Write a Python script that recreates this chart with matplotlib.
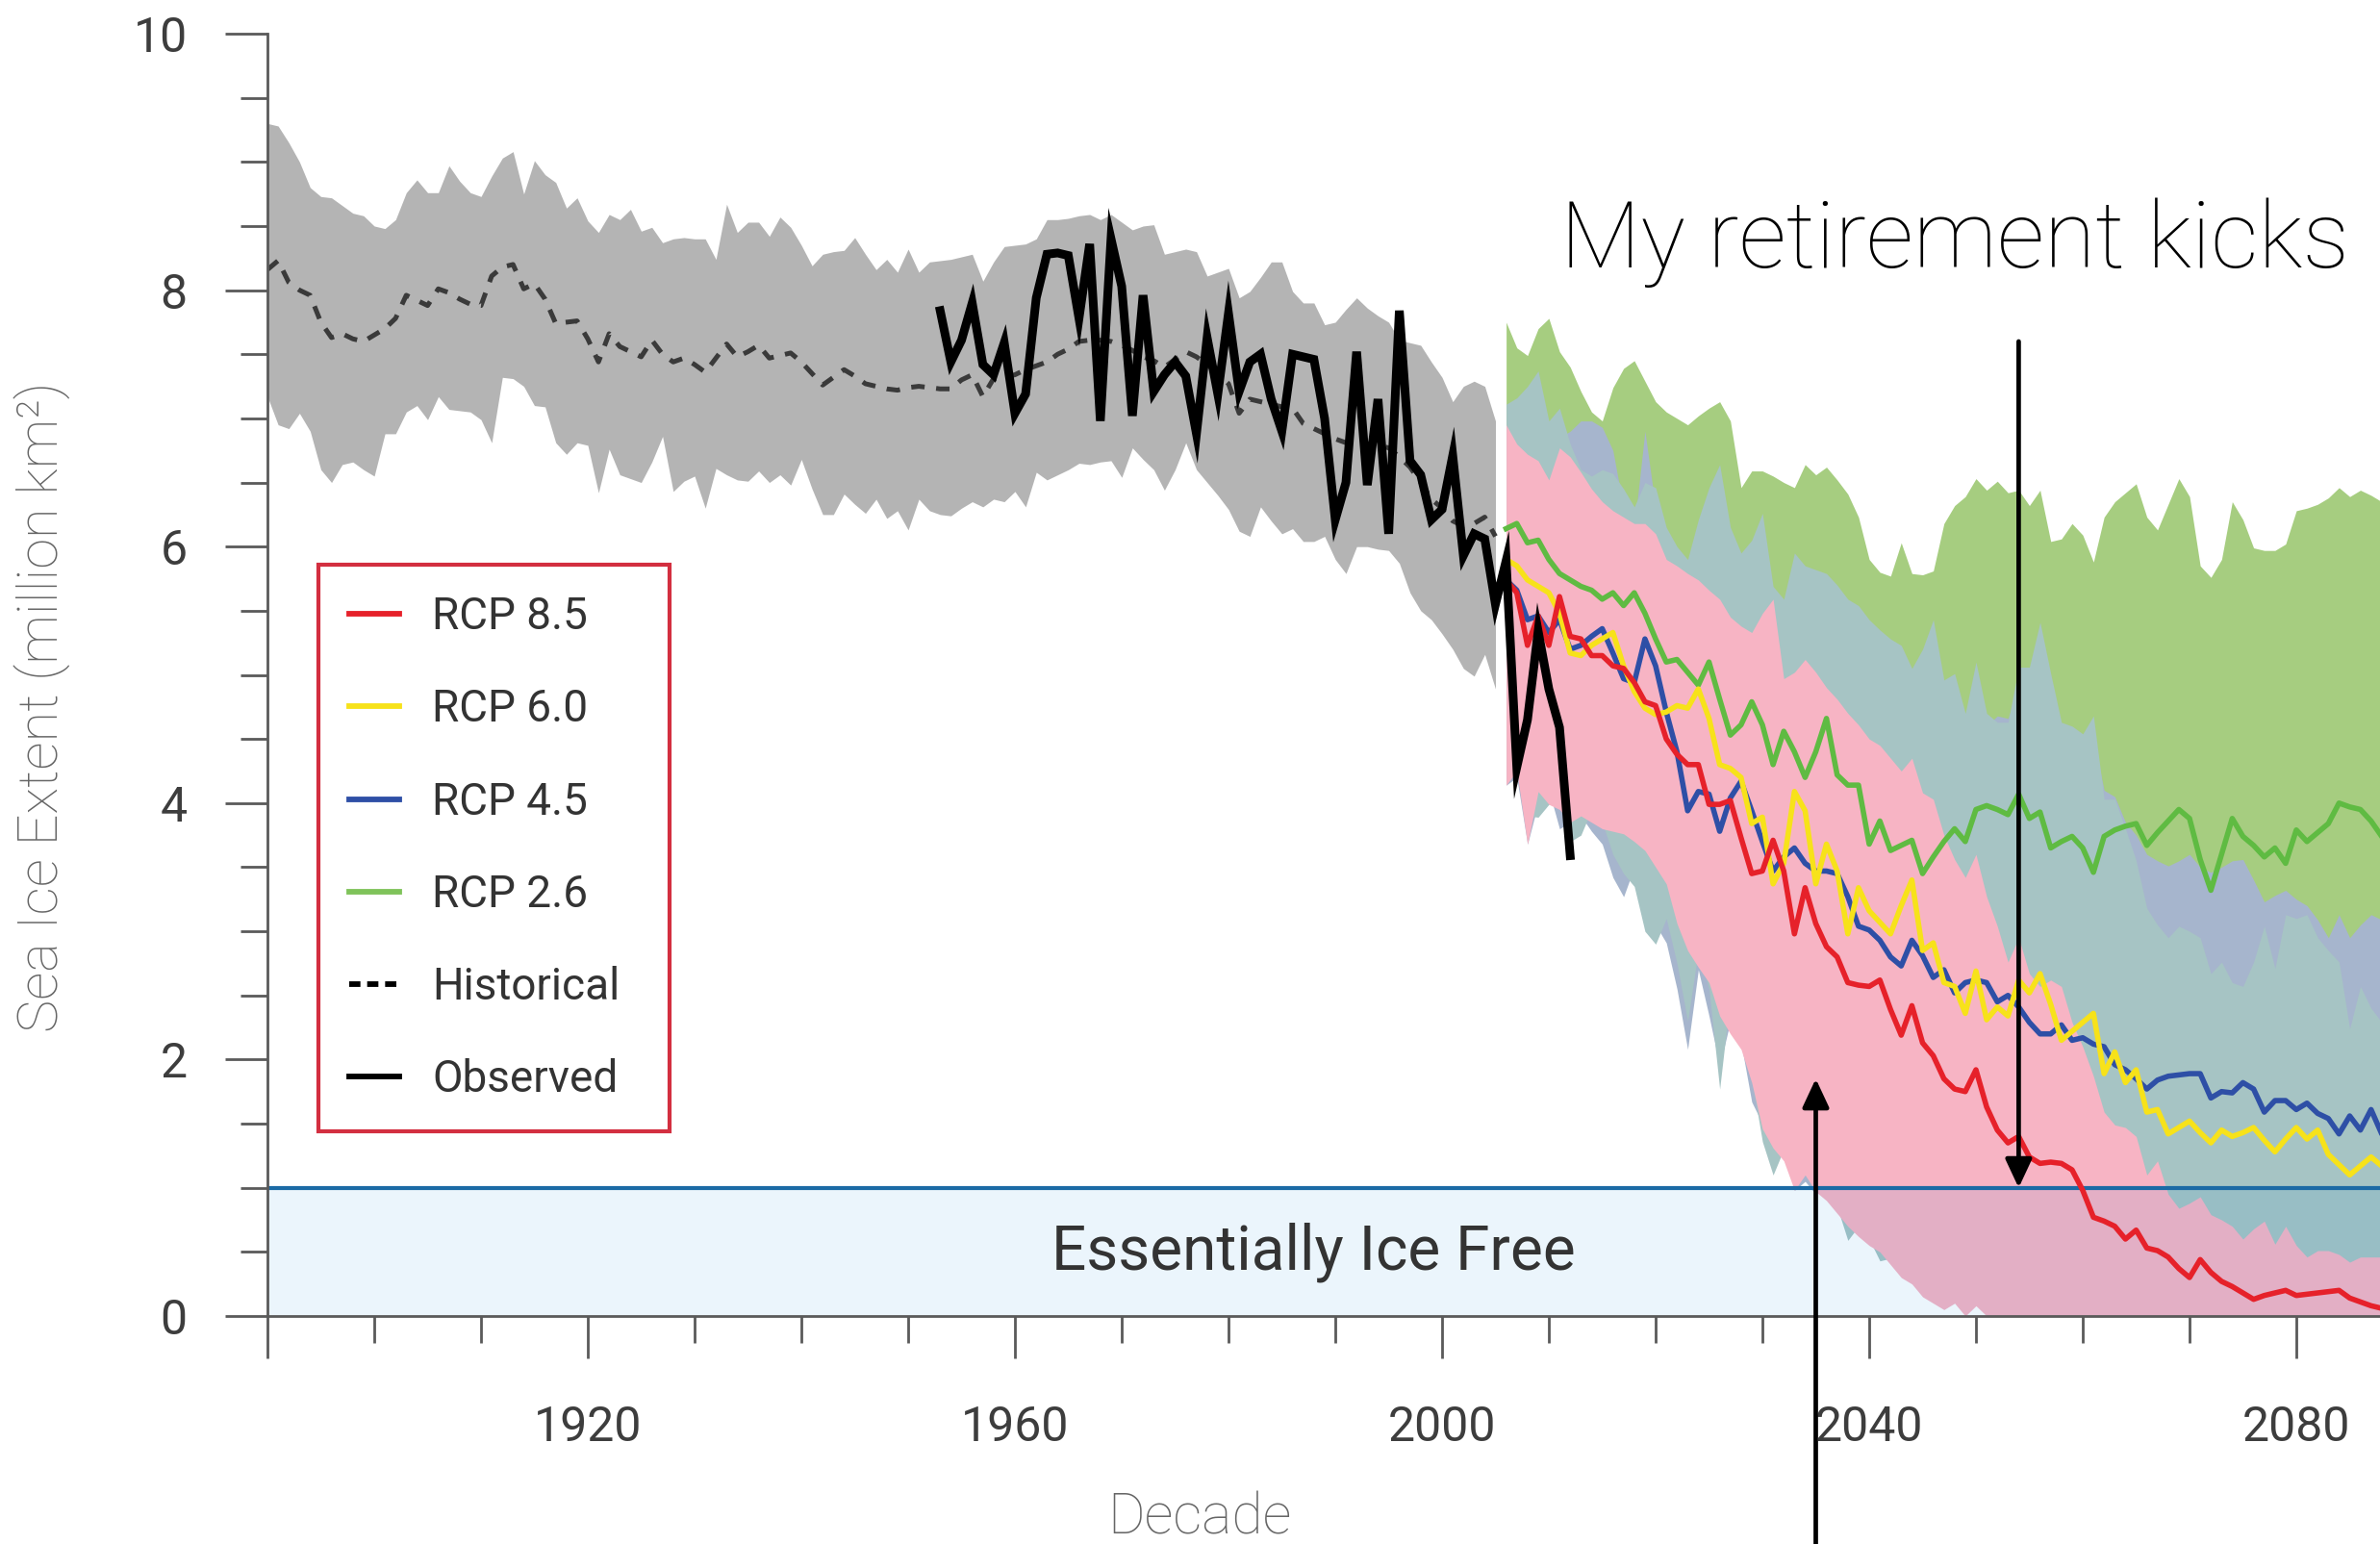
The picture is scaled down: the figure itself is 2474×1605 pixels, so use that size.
import matplotlib
matplotlib.use("Agg")
import matplotlib.pyplot as plt
from matplotlib.lines import Line2D
from matplotlib.ticker import FixedLocator, MultipleLocator

# ---------------- data ----------------
hist_years = list(range(1890, 2006))
hist_upper = [9.30, 9.28, 9.15, 9.00, 8.80, 8.73, 8.72, 8.66, 8.60, 8.58,
              8.50, 8.48, 8.55, 8.76, 8.86, 8.76, 8.76, 8.97, 8.85, 8.76,
              8.73, 8.89, 9.03, 9.08, 8.75, 9.01, 8.90, 8.84, 8.64, 8.72,
              8.54, 8.45, 8.59, 8.55, 8.63, 8.46, 8.49, 8.37, 8.40, 8.41,
              8.40, 8.40, 8.24, 8.67, 8.45, 8.53, 8.53, 8.42, 8.57, 8.49,
              8.35, 8.19, 8.28, 8.30, 8.31, 8.41, 8.28, 8.16, 8.24, 8.14,
              8.32, 8.14, 8.22, 8.23, 8.24, 8.26, 8.28, 8.07, 8.22, 8.34,
              8.35, 8.36, 8.40, 8.55, 8.55, 8.56, 8.58, 8.59, 8.55, 8.59,
              8.53, 8.47, 8.50, 8.51, 8.28, 8.30, 8.32, 8.30, 8.11, 8.14,
              8.17, 7.94, 7.99, 8.10, 8.22, 8.22, 7.99, 7.90, 7.90, 7.73,
              7.75, 7.85, 7.94, 7.86, 7.80, 7.75, 7.61, 7.59, 7.57, 7.44,
              7.32, 7.13, 7.25, 7.29, 7.25, 6.98]
hist_lower = [7.17, 6.95, 6.92, 7.04, 6.90, 6.60, 6.50, 6.64, 6.66, 6.60,
              6.55, 6.88, 6.88, 7.05, 7.10, 6.99, 7.17, 7.07, 7.06, 7.05,
              6.99, 6.81, 7.32, 7.31, 7.25, 7.10, 7.09, 6.81, 6.72, 6.81,
              6.79, 6.42, 6.76, 6.56, 6.53, 6.50, 6.66, 6.86, 6.43, 6.51,
              6.55, 6.30, 6.61, 6.56, 6.52, 6.51, 6.59, 6.50, 6.56, 6.48,
              6.68, 6.45, 6.25, 6.25, 6.41, 6.33, 6.26, 6.37, 6.22, 6.28,
              6.13, 6.37, 6.28, 6.25, 6.24, 6.30, 6.35, 6.31, 6.37, 6.35,
              6.43, 6.31, 6.58, 6.52, 6.56, 6.60, 6.65, 6.64, 6.66, 6.67,
              6.54, 6.77, 6.68, 6.60, 6.44, 6.60, 6.81, 6.60, 6.50, 6.40,
              6.29, 6.12, 6.08, 6.31, 6.20, 6.10, 6.14, 6.04, 6.04, 6.08,
              5.90, 5.79, 6.00, 6.00, 5.98, 5.97, 5.87, 5.64, 5.50, 5.43,
              5.32, 5.20, 5.05, 4.99, 5.16, 4.89]
hist_mean = [8.16, 8.23, 8.06, 8.00, 7.96, 7.75, 7.63, 7.66, 7.62, 7.60,
             7.65, 7.70, 7.78, 7.96, 7.92, 7.88, 8.01, 7.98, 7.93, 7.89,
             7.88, 8.11, 8.18, 8.20, 8.01, 8.05, 7.93, 7.74, 7.75, 7.76,
             7.62, 7.44, 7.66, 7.56, 7.52, 7.48, 7.61, 7.50, 7.44, 7.47,
             7.42, 7.36, 7.47, 7.58, 7.48, 7.52, 7.57, 7.47, 7.49, 7.51,
             7.44, 7.35, 7.26, 7.32, 7.38, 7.33, 7.27, 7.25, 7.23, 7.22,
             7.24, 7.25, 7.24, 7.23, 7.23, 7.30, 7.34, 7.17, 7.31, 7.32,
             7.34, 7.38, 7.41, 7.44, 7.50, 7.54, 7.60, 7.61, 7.61, 7.60,
             7.57, 7.53, 7.48, 7.45, 7.40, 7.46, 7.52, 7.48, 7.42, 7.35,
             7.27, 7.04, 7.15, 7.13, 7.11, 7.09, 7.08, 6.96, 6.92, 6.88,
             6.84, 6.81, 6.81, 6.80, 6.79, 6.77, 6.70, 6.62, 6.50, 6.37,
             6.30, 6.20, 6.16, 6.18, 6.23, 6.08]

obs_years = list(range(1953, 2013))
obs_values = [7.84, 7.44, 7.61, 7.90, 7.42, 7.34, 7.59, 7.04, 7.19, 7.94,
              8.28, 8.29, 8.27, 7.78, 8.36, 6.98, 8.40, 8.03, 7.02, 7.96,
              7.21, 7.34, 7.44, 7.33, 6.88, 7.63, 7.19, 7.82, 7.21, 7.44,
              7.50, 7.15, 6.90, 7.50, 7.48, 7.46, 7.00, 6.21, 6.50, 7.52,
              6.48, 7.15, 6.10, 7.84, 6.67, 6.56, 6.21, 6.29, 6.71, 5.93,
              6.10, 6.06, 5.55, 5.89, 4.28, 4.65, 5.34, 4.89, 4.59, 3.59]

proj_years = list(range(2006, 2089))
rcp85 = [5.74, 5.64, 5.23, 5.46, 5.23, 5.61, 5.30, 5.28, 5.15, 5.15,
         5.07, 5.05, 4.94, 4.79, 4.76, 4.50, 4.38, 4.30, 4.30, 3.99,
         3.99, 4.02, 3.73, 3.45, 3.47, 3.71, 3.47, 2.98, 3.34, 3.06,
         2.88, 2.80, 2.60, 2.58, 2.57, 2.62, 2.39, 2.19, 2.42, 2.13,
         2.03, 1.85, 1.77, 1.75, 1.92, 1.63, 1.45, 1.35, 1.40, 1.24,
         1.19, 1.20, 1.19, 1.14, 0.98, 0.77, 0.74, 0.70, 0.60, 0.67,
         0.53, 0.51, 0.46, 0.37, 0.30, 0.44, 0.34, 0.27, 0.23, 0.18,
         0.13, 0.16, 0.18, 0.20, 0.16, 0.17, 0.18, 0.19, 0.20, 0.14,
         0.11, 0.08, 0.06]
rcp60 = [5.90, 5.85, 5.74, 5.69, 5.64, 5.48, 5.17, 5.15, 5.23, 5.28,
         5.33, 5.07, 4.87, 4.74, 4.69, 4.71, 4.76, 4.74, 4.89, 4.66,
         4.30, 4.27, 4.20, 3.84, 3.89, 3.37, 3.53, 4.09, 3.94, 3.37,
         3.68, 3.47, 2.98, 3.34, 3.16, 3.07, 2.98, 3.20, 3.40, 2.85,
         2.91, 2.60, 2.57, 2.36, 2.69, 2.31, 2.41, 2.34, 2.62, 2.52,
         2.67, 2.43, 2.15, 2.22, 2.29, 2.36, 1.89, 2.06, 1.82, 1.92,
         1.59, 1.61, 1.42, 1.47, 1.52, 1.43, 1.35, 1.45, 1.40, 1.43,
         1.47, 1.37, 1.28, 1.38, 1.47, 1.38, 1.45, 1.26, 1.18, 1.10,
         1.17, 1.24, 1.17]
rcp45 = [5.74, 5.66, 5.43, 5.46, 5.33, 5.43, 5.20, 5.23, 5.30, 5.36,
         5.17, 4.97, 4.94, 5.28, 5.07, 4.71, 4.40, 3.94, 4.09, 4.07,
         3.78, 4.04, 4.17, 3.94, 3.70, 3.47, 3.58, 3.65, 3.53, 3.47,
         3.47, 3.45, 3.27, 3.04, 3.01, 2.93, 2.80, 2.73, 2.93, 2.81,
         2.64, 2.70, 2.52, 2.60, 2.62, 2.60, 2.45, 2.50, 2.41, 2.29,
         2.20, 2.20, 2.27, 2.15, 2.17, 2.12, 2.10, 1.96, 1.92, 1.85,
         1.77, 1.84, 1.87, 1.88, 1.89, 1.89, 1.70, 1.75, 1.74, 1.82,
         1.77, 1.59, 1.68, 1.68, 1.61, 1.66, 1.58, 1.54, 1.42, 1.56,
         1.45, 1.61, 1.42]
rcp26 = [6.14, 6.18, 6.03, 6.05, 5.90, 5.79, 5.74, 5.69, 5.66, 5.59,
         5.64, 5.54, 5.64, 5.48, 5.28, 5.10, 5.12, 5.02, 4.92, 5.10,
         4.81, 4.53, 4.61, 4.79, 4.61, 4.30, 4.56, 4.40, 4.20, 4.40,
         4.66, 4.22, 4.14, 4.14, 3.68, 3.86, 3.63, 3.67, 3.71, 3.45,
         3.58, 3.70, 3.80, 3.70, 3.95, 3.98, 3.95, 3.91, 4.07, 3.88,
         3.93, 3.65, 3.70, 3.74, 3.65, 3.46, 3.74, 3.79, 3.82, 3.84,
         3.67, 3.77, 3.86, 3.95, 3.88, 3.56, 3.32, 3.60, 3.88, 3.74,
         3.67, 3.58, 3.65, 3.53, 3.79, 3.70, 3.77, 3.84, 4.00, 3.97,
         3.95, 3.86, 3.74]

band26_upper = [7.75, 7.55, 7.49, 7.70, 7.78, 7.52, 7.40, 7.21, 7.05, 6.98,
                7.24, 7.39, 7.45, 7.29, 7.13, 7.05, 7.00, 6.95, 7.02, 7.08,
                7.13, 6.98, 6.46, 6.59, 6.59, 6.55, 6.50, 6.46, 6.64, 6.56,
                6.62, 6.52, 6.41, 6.23, 5.90, 5.80, 5.77, 6.03, 5.79, 5.78,
                5.81, 6.18, 6.32, 6.39, 6.53, 6.44, 6.51, 6.42, 6.44, 6.32,
                6.44, 6.04, 6.06, 6.18, 6.09, 5.88, 6.23, 6.35, 6.42, 6.49,
                6.23, 6.13, 6.33, 6.53, 6.39, 5.85, 5.76, 5.90, 6.35, 6.21,
                5.99, 5.97, 5.97, 6.02, 6.28, 6.30, 6.33, 6.38, 6.46, 6.39,
                6.44, 6.40, 6.35]
band26_lower = [5.0, 5.1, 4.9, 4.7, 4.0, 4.6, 4.6, 4.5, 4.5, 4.4,
                4.5, 4.4, 4.5, 4.3, 4.1, 4.0, 4.0, 3.9, 3.8, 3.9,
                3.7, 3.5, 3.5, 3.7, 3.5, 3.2, 3.4, 3.3, 3.1, 3.3,
                3.5, 3.1, 3.0, 3.0, 2.6, 2.8, 2.5, 2.6, 2.6, 2.4,
                2.5, 2.6, 2.7, 2.6, 2.9, 2.9, 2.9, 2.8, 3.0, 2.8,
                2.9, 2.6, 2.6, 2.7, 2.6, 2.4, 2.7, 2.7, 2.8, 2.8,
                2.6, 2.7, 2.8, 2.9, 2.8, 2.5, 2.3, 2.5, 2.8, 2.7,
                2.6, 2.5, 2.6, 2.5, 2.7, 2.6, 2.7, 2.8, 2.9, 2.9,
                2.9, 2.8, 2.7]
band45_upper = [6.90, 6.95, 7.00, 7.10, 6.80, 6.85, 6.90, 6.98, 6.98, 6.93,
                6.75, 6.30, 6.15, 6.90, 6.30, 6.00, 5.85, 5.75, 6.00, 6.20,
                6.40, 6.00, 5.80, 5.90, 6.05, 5.55, 5.45, 5.80, 5.70, 5.65,
                5.60, 5.50, 5.40, 5.35, 5.25, 5.15, 5.10, 5.05, 4.90, 5.05,
                5.20, 4.80, 4.85, 4.55, 4.90, 4.60, 4.68, 4.66, 4.90, 4.90,
                5.20, 4.85, 4.50, 4.45, 4.40, 4.50, 4.10, 4.05, 3.85, 3.75,
                3.60, 3.55, 3.51, 3.55, 3.60, 3.50, 3.46, 3.50, 3.55, 3.56,
                3.40, 3.23, 3.28, 3.32, 3.25, 3.20, 3.09, 2.95, 3.13, 2.95,
                3.05, 3.13, 3.09]
band45_lower = [4.14, 4.20, 3.68, 4.00, 4.10, 3.80, 3.85, 3.90, 3.78, 3.68,
                3.42, 3.27, 3.50, 3.15, 3.05, 2.91, 2.55, 2.08, 2.70, 2.34,
                1.95, 2.30, 2.13, 1.67, 1.50, 1.25, 1.45, 0.98, 1.05, 0.95,
                1.05, 0.95, 0.70, 0.80, 0.70, 0.55, 0.55, 0.45, 0.40, 0.35,
                0.30, 0.30, 0.30, 0.30, 0.30, 0.30, 0.30, 0.30, 0.30, 0.30,
                0.30, 0.30, 0.30, 0.30, 0.30, 0.30, 0.30, 0.30, 0.30, 0.30,
                0.30, 0.30, 0.30, 0.30, 0.30, 0.30, 0.30, 0.30, 0.30, 0.30,
                0.30, 0.30, 0.30, 0.30, 0.30, 0.30, 0.30, 0.30, 0.30, 0.30,
                0.30, 0.30, 0.30]
band60_upper = [7.11, 7.16, 7.25, 7.37, 6.98, 7.08, 6.80, 6.60, 6.55, 6.60,
                6.57, 6.45, 6.31, 6.50, 6.46, 6.15, 6.00, 5.90, 6.21, 6.46,
                6.64, 6.15, 5.95, 6.05, 6.26, 5.69, 5.59, 5.95, 5.85, 5.82,
                5.79, 5.70, 5.59, 5.54, 5.43, 5.35, 5.28, 5.23, 5.05, 5.20,
                5.43, 4.96, 5.01, 4.70, 5.10, 4.70, 4.63, 4.63, 5.06, 5.06,
                5.41, 5.01, 4.63, 4.60, 4.54, 4.68, 4.03, 4.03, 3.80, 3.55,
                3.18, 3.05, 2.95, 3.04, 3.00, 2.95, 2.67, 2.76, 2.60, 2.57,
                2.76, 3.04, 2.71, 3.13, 3.10, 3.13, 2.95, 2.85, 2.76, 2.24,
                2.57, 2.40, 2.29]
band60_lower = [4.30, 4.40, 3.90, 3.89, 3.99, 4.00, 3.70, 3.75, 3.95, 3.85,
                3.60, 3.45, 3.35, 3.00, 2.90, 3.10, 2.75, 2.30, 2.85, 2.55,
                1.77, 2.50, 2.30, 1.85, 1.36, 1.10, 1.30, 1.15, 1.20, 1.10,
                0.95, 0.85, 0.59, 0.70, 0.60, 0.43, 0.45, 0.35, 0.30, 0.25,
                0.20, 0.20, 0.20, 0.20, 0.20, 0.20, 0.20, 0.20, 0.20, 0.20,
                0.20, 0.20, 0.20, 0.20, 0.20, 0.20, 0.20, 0.20, 0.20, 0.20,
                0.20, 0.20, 0.20, 0.20, 0.20, 0.20, 0.20, 0.20, 0.20, 0.20,
                0.20, 0.20, 0.20, 0.20, 0.20, 0.20, 0.20, 0.20, 0.20, 0.20,
                0.20, 0.20, 0.20]
band85_upper = [6.95, 6.80, 6.72, 6.67, 6.52, 6.77, 6.70, 6.58, 6.45, 6.35,
                6.28, 6.23, 6.18, 6.18, 6.10, 5.90, 5.85, 5.79, 5.74, 5.66,
                5.59, 5.45, 5.38, 5.33, 5.48, 5.59, 4.97, 5.02, 5.12, 5.02,
                4.90, 4.81, 4.70, 4.61, 4.50, 4.45, 4.35, 4.25, 4.35, 4.08,
                4.03, 3.75, 3.56, 3.42, 3.60, 3.27, 3.04, 2.76, 2.95, 2.67,
                2.57, 2.62, 2.57, 2.29, 2.10, 1.87, 1.59, 1.49, 1.47, 1.40,
                1.10, 1.21, 0.95, 0.84, 0.88, 0.93, 0.79, 0.75, 0.70, 0.60,
                0.68, 0.74, 0.56, 0.70, 0.55, 0.46, 0.51, 0.51, 0.48, 0.42,
                0.46, 0.46, 0.46]
band85_lower = [4.14, 4.25, 3.68, 4.09, 3.99, 3.95, 3.85, 3.90, 3.85, 3.80,
                3.78, 3.76, 3.70, 3.63, 3.50, 3.37, 3.06, 2.85, 2.72, 2.60,
                2.34, 2.20, 2.08, 1.82, 1.46, 1.31, 1.21, 0.98, 1.10, 0.97,
                0.90, 0.80, 0.70, 0.62, 0.55, 0.50, 0.40, 0.30, 0.25, 0.15,
                0.10, 0.05, 0.10, 0.00, 0.08, 0.00, 0.00, 0.00, 0.00, 0.00,
                0.00, 0.00, 0.00, 0.00, 0.00, 0.00, 0.00, 0.00, 0.00, 0.00,
                0.00, 0.00, 0.00, 0.00, 0.00, 0.00, 0.00, 0.00, 0.00, 0.00,
                0.00, 0.00, 0.00, 0.00, 0.00, 0.00, 0.00, 0.00, 0.00, 0.00,
                0.00, 0.00, 0.00]

legend_labels = ["RCP 8.5", "RCP 6.0", "RCP 4.5", "RCP 2.6", "Historical", "Observed"]
x_tick_values = [1890, 1920, 1960, 2000, 2040, 2080]
x_tick_labels = ["", "1920", "1960", "2000", "2040", "2080"]
y_tick_values = [0, 2, 4, 6, 8, 10]
ice_free_threshold = 1.0
retire_year = 2054
retire_top = 7.6
arrow_year = 2035
arrow_tip = 1.85

# ---------------- styling ----------------
C_RED = "#e6212a"
C_YEL = "#f7e21a"
C_BLU = "#2e4fa6"
C_GRN = "#5fbb42"
C_GRN_L = "#7fc35a"
AX_GREY = "#5a5a5a"
TXT = "#3d3d3d"

W, H = 2474, 1605
fig = plt.figure(figsize=(W / 100, H / 100), dpi=100)
ax_left, ax_bottom_px, ax_top_px = 278, 1368, 35
ax = fig.add_axes([ax_left / W, 1 - ax_bottom_px / H, 1 - ax_left / W,
                   (ax_bottom_px - ax_top_px) / H])
ax.set_xlim(1890, 1890 + (W - ax_left) / 11.1)
ax.set_ylim(0, 10)

# historical band
ax.fill_between(hist_years, hist_lower, hist_upper, color="#b4b4b4",
                linewidth=0, zorder=1)
# projection bands
ax.fill_between(proj_years, band26_lower, band26_upper, color="#a6cd80",
                linewidth=0, zorder=1.1)
ax.fill_between(proj_years, band45_lower, band45_upper, color="#a6b5cd",
                linewidth=0, zorder=1.2)
ax.fill_between(proj_years, band60_lower, band60_upper, color="#a6c4c4",
                linewidth=0, zorder=1.3)
ax.fill_between(proj_years, band85_lower, band85_upper, color="#f7b4c4",
                linewidth=0, zorder=1.4)

# essentially ice free
ax.axhspan(0, ice_free_threshold, color=(0.0, 0.5, 0.85), alpha=0.08,
           linewidth=0, zorder=2)
ax.axhline(ice_free_threshold, color="#1b6aa5", lw=3.0, zorder=2.2)
ax.text(1988, 0.5, "Essentially Ice Free", fontsize=46, family="Roboto",
        color="#333333", ha="center", va="center", zorder=3)

# lines
ax.plot(hist_years, hist_mean, color="#3a3a3a", lw=3.6, dashes=(2.8, 2.4),
        zorder=3)
ax.plot(proj_years, rcp26, color=C_GRN, lw=4.0, zorder=4)
ax.plot(proj_years, rcp45, color=C_BLU, lw=4.0, zorder=4.1)
ax.plot(proj_years, rcp60, color=C_YEL, lw=4.0, zorder=4.2)
ax.plot(proj_years, rcp85, color=C_RED, lw=4.0, zorder=4.3)
ax.plot(obs_years, obs_values, color="black", lw=6.5, zorder=5,
        solid_joinstyle="miter")

# axes styling
for s in ("top", "right"):
    ax.spines[s].set_visible(False)
for s in ("left", "bottom"):
    ax.spines[s].set_color(AX_GREY)
    ax.spines[s].set_linewidth(2.0)
    ax.spines[s].set_zorder(6)
ax.xaxis.set_major_locator(FixedLocator(x_tick_values))
ax.set_xticklabels(x_tick_labels)
ax.xaxis.set_minor_locator(MultipleLocator(10))
ax.yaxis.set_major_locator(FixedLocator(y_tick_values))
ax.yaxis.set_minor_locator(MultipleLocator(0.5))
ax.tick_params(which="major", length=32, width=2.0, color=AX_GREY,
               labelsize=36, labelcolor=TXT)
ax.tick_params(which="minor", length=20, width=2.0, color=AX_GREY)
ax.tick_params(axis="x", which="major", pad=34)
ax.tick_params(axis="y", which="major", pad=28)
for lab in ax.get_xticklabels() + ax.get_yticklabels():
    lab.set_family("Roboto")

fig.text(44 / W, 1 - 735 / H, "Sea Ice Extent (million km²)", rotation=90,
         fontsize=41.5, family="Roboto", fontweight="light", color="#666666",
         ha="center", va="center")
fig.text(1247 / W, 1 - 1578 / H, "Decade", fontsize=42.5, family="Roboto",
         fontweight="light", color="#666666", ha="center", va="center")

# legend
handles = [Line2D([], [], color=C_RED, lw=4.2),
           Line2D([], [], color=C_YEL, lw=4.2),
           Line2D([], [], color=C_BLU, lw=4.2),
           Line2D([], [], color=C_GRN_L, lw=4.2),
           Line2D([], [], color="black", lw=4.2, dashes=(2.0, 1.2)),
           Line2D([], [], color="black", lw=4.2)]
leg_x0, leg_x1, leg_top, leg_bot = 331, 696, 587, 1182
leg = ax.legend(handles, legend_labels, loc="upper left",
                bbox_to_anchor=(leg_x0 / W, 1 - leg_bot / H,
                                (leg_x1 - leg_x0) / W, (leg_bot - leg_top) / H),
                bbox_transform=fig.transFigure, borderaxespad=0, mode="expand",
                prop={"family": "Roboto", "size": 33},
                labelcolor="#333333", frameon=True, fancybox=False,
                edgecolor="#d32f40", framealpha=1, borderpad=0.7,
                labelspacing=1.14, handlelength=1.13, handletextpad=0.75)
leg.get_frame().set_linewidth(3.0)
leg.set_zorder(8)

# annotations
fig.text(1622 / W, 1 - 278 / H, "My retirement kicks", fontsize=70,
         family="Roboto", fontweight="light", color="black", ha="left",
         va="baseline")
arrow_style = "-|>,head_length=0.9,head_width=0.42"
ax.annotate("", xy=(retire_year, ice_free_threshold),
            xytext=(retire_year, retire_top),
            arrowprops=dict(arrowstyle=arrow_style, color="black", lw=3.4,
                            mutation_scale=20, shrinkA=0, shrinkB=0),
            zorder=10, annotation_clip=False)
ax.annotate("", xy=(arrow_year, arrow_tip), xytext=(arrow_year, -2.0),
            arrowprops=dict(arrowstyle=arrow_style, color="black", lw=3.4,
                            mutation_scale=20, shrinkA=0, shrinkB=0),
            zorder=10, annotation_clip=False)

fig.savefig("out.png", dpi=100)
